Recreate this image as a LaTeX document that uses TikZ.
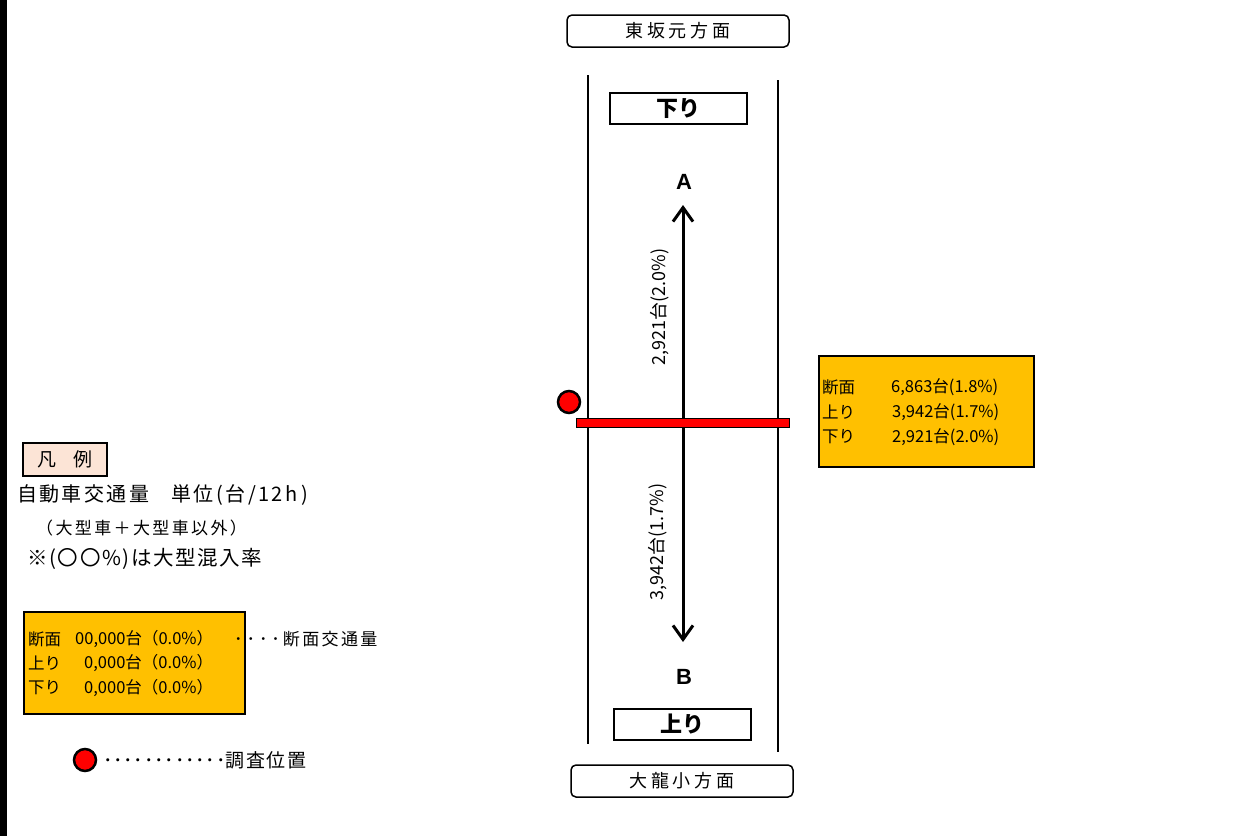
\documentclass[tikz,border=0pt]{standalone}
\usepackage{fontspec}
\setmainfont{Noto Sans CJK JP}
\newfontfamily\latinbold{Liberation Sans}
\usetikzlibrary{arrows.meta}
\definecolor{orangebox}{RGB}{255,192,0}
\definecolor{legendpink}{RGB}{252,228,214}
\newcommand{\fsz}[1]{\fontsize{#1}{#1}\selectfont}
\newcommand{\ls}[1]{\addfontfeature{LetterSpace=#1}}
\begin{document}
\begin{tikzpicture}[x=1pt,y=-1pt,
  dirbox/.style={draw,line width=1.5pt,rounded corners=5pt,minimum width=222pt,minimum height=32pt,inner sep=0pt,font=\fsz{18}\ls{20}},
  lanebox/.style={draw,line width=1.5pt,minimum width=137pt,minimum height=31pt,inner sep=0pt,font=\fsz{22}\bfseries},
  roadline/.style={line width=1.6pt},
  flow/.style={line width=3pt,-{Straight Barb[length=14pt,width=20pt]}},
  endlabel/.style={font=\fsz{22}\latinbold\bfseries,inner sep=0pt},
  vlabel/.style={rotate=90,font=\fsz{18},inner sep=0pt},
  infobox/.style={draw,line width=1.2pt,fill=orangebox,inner sep=0pt},
  infotxt/.style={anchor=west,inner sep=0pt,font=\fsz{16.5}},
  legtxt/.style={anchor=west,inner sep=0pt},
  spot/.style={circle,draw,line width=2.5pt,fill=red,minimum size=22pt,inner sep=0pt}
]
\useasboundingbox (0,0) rectangle (1244,836);
\fill[black] (0,0) rectangle (7,836);

% direction boxes
\node[dirbox] (top) at (678,31) {東坂元方面};
\node[dirbox] (bot) at (682,781) {大龍小方面};

% road edges
\coordinate (l1) at (588,75); \coordinate (l2) at (588,744);
\coordinate (r1) at (778,80); \coordinate (r2) at (778,752);
\draw[roadline] (l1) -- (l2);
\draw[roadline] (r1) -- (r2);

% lane boxes
\node[lanebox] (down) at (678.5,108.5) {下り};
\node[lanebox] (up) at (682.5,724.5) {上り};

% end labels
\node[endlabel] (A) at (684,182) {A};
\node[endlabel] (B) at (684,677) {B};

% survey bar and arrows
\coordinate (ctr) at (683,422);
\coordinate (atip) at (683,205);
\coordinate (btip) at (683,642);
\draw[flow] (ctr) -- (atip);
\draw[flow] (ctr) -- (btip);
\node[draw,line width=0.8pt,fill=red,minimum width=213pt,minimum height=9pt,inner sep=0pt] (bar) at (682.5,422.5) {};
\node[spot] (pos) at (569,402) {};

\node[vlabel] (lblA) at (660,307) {2,921台(2.0\%)};
\node[vlabel] (lblB) at (658,542) {3,942台(1.7\%)};

% info box
\node[infobox,minimum width=215pt,minimum height=111pt] (info) at (926.5,411.5) {};
\node[infotxt] (i1) at (822,387) {断面};
\node[infotxt] (i2) at (822,412) {上り};
\node[infotxt] (i3) at (822,437) {下り};
\node[infotxt] (n1) at (891,387) {6,863台(1.8\%)};
\node[infotxt] (n2) at (892,412) {3,942台(1.7\%)};
\node[infotxt] (n3) at (892,437) {2,921台(2.0\%)};

% legend
\node[draw,line width=1.2pt,fill=legendpink,minimum width=84pt,minimum height=33pt,inner sep=0pt,font=\fsz{19}] (hanrei) at (65,459.5) {凡\hspace{17pt}例};
\node[legtxt,font=\fsz{20}\ls{12}] (u1) at (17,495) {自動車交通量\hspace{22pt}単位\hspace{3pt}(台/12h\hspace{4pt})};
\node[legtxt,font=\fsz{17}\ls{14}] (u2) at (36,528) {（大型車＋大型車以外）};
\node[legtxt,font=\fsz{20.5}\ls{8}] (u3) at (27,559) {※(〇〇\%)は大型混入率};

\node[infobox,minimum width=221pt,minimum height=102pt] (leg) at (134.5,663) {};
\node[infotxt] (g1) at (28,639) {断面};
\node[infotxt] (g2) at (28,663) {上り};
\node[infotxt] (g3) at (28,688) {下り};
\node[infotxt] (h1) at (75,639) {00,000台（0.0\%）};
\node[infotxt] (h2) at (84,663) {0,000台（0.0\%）};
\node[infotxt] (h3) at (84,688) {0,000台（0.0\%）};
\node[legtxt,font=\fsz{17}] (d1) at (234,639) {{\ls{23}････}\hspace{3pt}{\ls{14}断面交通量}};

\node[spot] (legpos) at (85,760) {};
\node[legtxt,font=\fsz{19}] (d2) at (103,760) {{\ls{4}････････････}{\ls{8}調査位置}};
\end{tikzpicture}
\end{document}
